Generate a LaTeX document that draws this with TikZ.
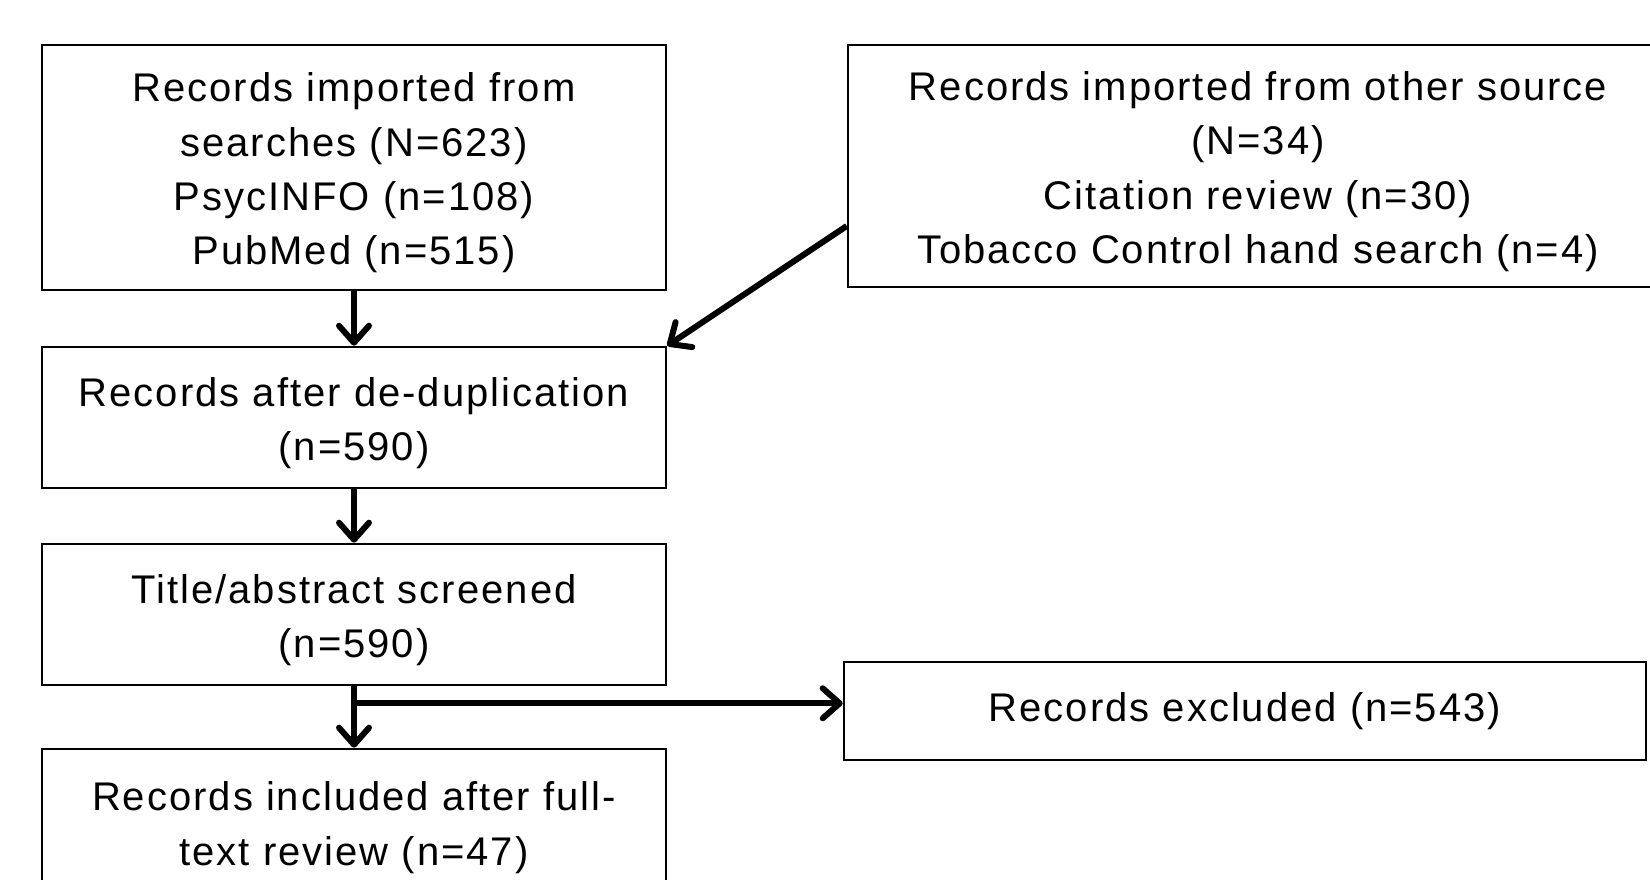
\documentclass[tikz,border=0pt]{standalone}
\usepackage{fontspec}
\setmainfont{Liberation Sans}[LetterSpace=5]
\usetikzlibrary{arrows.meta}

% extra room above the first line, pushes the text a little down
\newcommand{\topgap}{\rule{0pt}{20pt}}

\begin{document}
\begin{tikzpicture}
    [x=0.5pt, y=-0.5pt,
     every node/.style={font=\fontsize{20}{27.2}\selectfont},
     flowbox/.style={draw, line width=1.3pt, align=center, inner sep=0pt},
     flowarrow/.style={line width=3pt, -{Straight Barb[length=8.5pt, width=15pt, round]}}]

    \clip (0,0) rectangle (1650,879);

    \node[flowbox, minimum width=312pt, minimum height=122.5pt] (search) at (354,167.5)
      {\topgap Records imported from\\searches (N=623)\\PsycINFO (n=108)\\PubMed (n=515)};
    \node[flowbox, minimum width=410pt, minimum height=121pt] (other) at (1258,166)
      {\topgap Records imported from other source\\(N=34)\\Citation review (n=30)\\Tobacco Control hand search (n=4)};
    \node[flowbox, minimum width=312pt, minimum height=70.5pt] (dedup) at (354,417.5)
      {\topgap Records after de-duplication\\(n=590)};
    \node[flowbox, minimum width=312pt, minimum height=70.5pt] (screen) at (354,614.5)
      {\topgap Title/abstract screened\\(n=590)};
    \node[flowbox, minimum width=312pt, minimum height=73pt] (included) at (354,822)
      {\topgap Records included after full-\\text review (n=47)};
    \node[flowbox, minimum width=401pt, minimum height=49pt] (excluded) at (1245,711)
      {Records excluded (n=543)};

    \draw[flowarrow] (search) -- (dedup);
    \draw[flowarrow] (dedup) -- (screen);
    \draw[flowarrow] (screen) -- (included);
    \coordinate (split) at ([yshift=-8.5pt]screen.south);
    \draw[flowarrow] (split) -- (split -| excluded.west);
    \draw[flowarrow] ([yshift=-30pt]other.west) -- (dedup.north east);
\end{tikzpicture}
\end{document}
